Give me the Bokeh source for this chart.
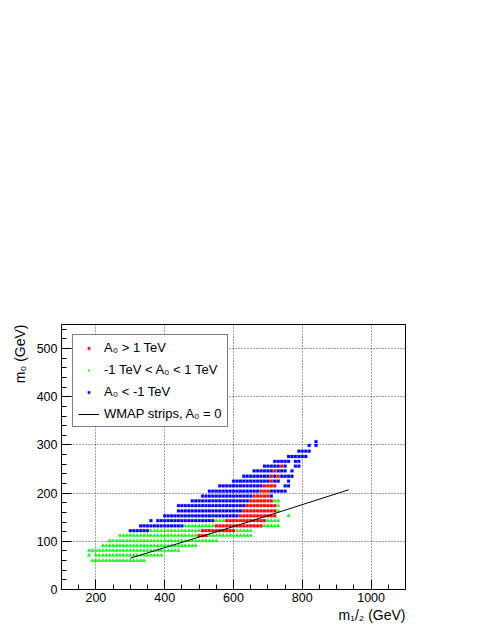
from bokeh.plotting import figure
from bokeh.models import Range1d, Legend, LegendItem, Title, SingleIntervalTicker
from bokeh.embed import file_html
from bokeh.resources import INLINE

# m0 values (GeV) of the scan rows, bottom to top
m0_rows = [60, 71, 81, 91, 101, 112, 122, 132, 143, 153, 163, 174, 184,
           194, 204, 215, 225, 235, 246, 256, 266, 276, 287, 299, 307]

# colour runs along each row: (row index, first m1/2, last m1/2), 10 GeV apart
green_runs = [(0, 190, 340), (1, 180, 180), (1, 200, 390), (2, 180, 440),
              (3, 220, 490), (4, 240, 550), (5, 270, 490), (5, 530, 650),
              (6, 360, 500), (6, 610, 650), (7, 460, 540), (7, 690, 730),
              (8, 550, 570), (8, 700, 730), (9, 760, 760), (10, 730, 730),
              (11, 730, 730), (12, 720, 730)]
red_runs = [(5, 500, 520), (6, 510, 600), (7, 550, 680), (8, 580, 690),
            (9, 620, 720), (10, 630, 720), (11, 640, 720), (12, 650, 710),
            (13, 660, 700), (14, 680, 700), (15, 690, 720), (16, 710, 710),
            (17, 710, 710), (17, 730, 730), (18, 720, 720), (19, 740, 740)]
blue_runs = [(6, 300, 350), (7, 330, 450), (8, 360, 360), (8, 380, 540),
             (9, 400, 610), (10, 440, 620), (11, 440, 630), (12, 480, 640),
             (13, 510, 650), (13, 710, 710), (14, 530, 670), (14, 710, 750),
             (15, 560, 680), (15, 750, 760), (16, 600, 700), (16, 720, 730),
             (16, 760, 760), (17, 630, 700), (17, 720, 720), (17, 740, 770),
             (18, 660, 710), (18, 730, 750), (18, 770, 770), (19, 690, 730),
             (19, 750, 750), (19, 780, 790), (20, 720, 760), (20, 780, 790),
             (21, 760, 810), (22, 790, 820), (23, 820, 820), (23, 840, 840),
             (24, 840, 840)]

# WMAP strip for A0 = 0
wmap_m12 = [300, 620, 935]
wmap_m0 = [65, 135, 207]

labels = ["A\u2080 > 1 TeV", "-1 TeV < A\u2080 < 1 TeV", "A\u2080 < -1 TeV",
          "WMAP strips, A\u2080 = 0"]


def expand(runs):
    xs, ys = [], []
    for r, a, b in runs:
        for m in range(a, b + 1, 10):
            xs.append(m)
            ys.append(m0_rows[r])
    return xs, ys


FONT = "Liberation Sans"

p = figure(width=470, height=625, x_range=Range1d(100, 1100), y_range=Range1d(0, 550),
           output_backend="svg", toolbar_location=None,
           min_border_left=61, min_border_right=65, min_border_top=324,
           min_border_bottom=36, background_fill_color="white",
           border_fill_color="white")

p.outline_line_color = "black"
p.outline_line_width = 1

p.xaxis.ticker = SingleIntervalTicker(interval=200, num_minor_ticks=4)
p.yaxis.ticker = SingleIntervalTicker(interval=100, num_minor_ticks=5)
for ax in (p.xaxis, p.yaxis):
    ax.major_tick_in = 10
    ax.major_tick_out = 0
    ax.minor_tick_in = 5
    ax.minor_tick_out = 0
    ax.axis_line_color = "black"
    ax.major_tick_line_color = "black"
    ax.minor_tick_line_color = "black"
    ax.major_label_text_font = FONT
    ax.major_label_text_font_size = "12.5px"
    ax.major_label_text_color = "black"
p.xaxis.major_label_standoff = 3
p.yaxis.major_label_standoff = 4

for g in (p.xgrid, p.ygrid):
    g.grid_line_color = "#444444"
    g.grid_line_dash = "1 2"
    g.grid_line_width = 1

gx, gy = expand(green_runs)
rx, ry = expand(red_runs)
bx, by = expand(blue_runs)

r_green = p.scatter(gx, gy, marker="triangle", size=3.6, fill_color="#00ff00",
                    line_color="#00ff00", line_width=0.3)
r_red = p.scatter(rx, ry, marker="square", size=2.8, fill_color="#ff0000",
                  line_color="#ff0000", line_width=0.3)
r_blue = p.scatter(bx, by, marker="square", size=2.8, fill_color="#0000ff",
                   line_color="#0000ff", line_width=0.3)
r_line = p.line(wmap_m12, wmap_m0, line_color="black", line_width=1)

legend = Legend(items=[LegendItem(label=labels[0], renderers=[r_red]),
                       LegendItem(label=labels[1], renderers=[r_green]),
                       LegendItem(label=labels[2], renderers=[r_blue]),
                       LegendItem(label=labels[3], renderers=[r_line])],
                location=(11, 162), padding=5, spacing=7, margin=0,
                glyph_height=6, glyph_width=21, label_height=15,
                label_standoff=5, border_line_color="black",
                border_line_width=1, background_fill_color="white",
                background_fill_alpha=1.0, label_text_font=FONT,
                label_text_font_size="13px", label_text_color="black")
p.add_layout(legend, "center")

p.add_layout(Title(text="m\u2081/\u2082 (GeV)", align="right", text_font=FONT,
                   text_font_size="14px", text_font_style="normal",
                   text_color="black", standoff=0, offset=0), "below")
p.add_layout(Title(text="m\u2080 (GeV)", align="right", text_font=FONT,
                   text_font_size="14px", text_font_style="normal",
                   text_color="black", standoff=12, offset=0), "left")

open("out.html", "w").write(file_html(p, INLINE))
